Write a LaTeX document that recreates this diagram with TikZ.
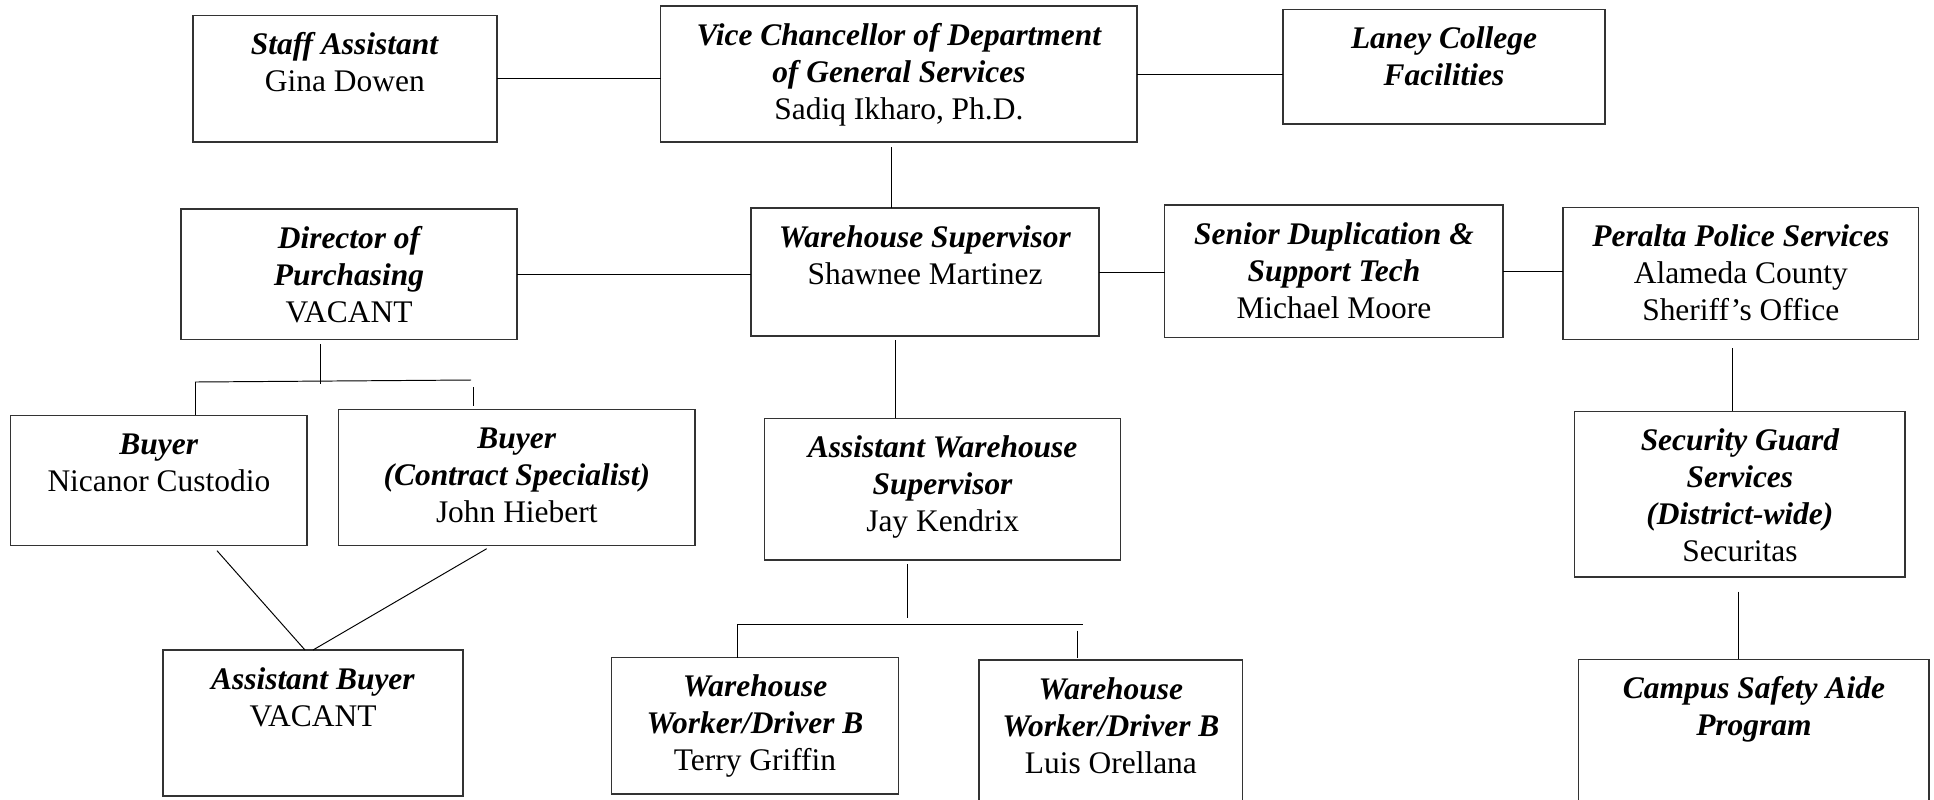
\documentclass[tikz,border=0pt]{standalone}
\usepackage{fontspec}
\setmainfont{Liberation Serif}
\usepackage{tikz}
\usetikzlibrary{calc}

\newlength{\pxu}
\setlength{\pxu}{0.02cm}
\newcommand{\role}[1]{\textbf{\textit{#1}}}
\newcommand{\posbox}[3]{\parbox[c][#2\pxu][t]{#1\pxu}{\centering\rule{0pt}{39\pxu}#3}}

\begin{document}
\begin{tikzpicture}[x=0.02cm, y=-0.02cm,
    box/.style={draw=black!80, line width=0.8pt, inner sep=0pt, outer sep=0pt,
      font=\fontsize{17.9}{21.1}\selectfont},
    link/.style={draw=black, line width=0.55pt}]
    \useasboundingbox (0,0) rectangle (1934,799);

    % top row
    \node[box] (staff) at (344.9,78.9) {\posbox{304}{126.3}{\role{Staff Assistant}\\Gina Dowen}};
    \node[box] (vc) at (898.9,74) {\posbox{476.3}{136}{\role{Vice Chancellor of Department\\of General Services}\\Sadiq Ikharo, Ph.D.}};
    \node[box] (laney) at (1444,66.7) {\posbox{322}{114.7}{\role{Laney College\\Facilities}}};

    % second row
    \node[box] (dir) at (349,274.2) {\posbox{336}{130.3}{\role{Director of\\Purchasing}\\VACANT}};
    \node[box] (ws) at (925,272) {\posbox{348}{128}{\role{Warehouse Supervisor}\\Shawnee Martinez}};
    \node[box] (senior) at (1333.9,271.4) {\posbox{338.3}{132.7}{\role{Senior Duplication \&\\Support Tech}\\Michael Moore}};
    \node[box] (peralta) at (1740.8,273.3) {\posbox{355.9}{132}{\role{Peralta Police Services}\\Alameda County\\Sheriff’s Office}};

    % third row
    \node[box] (buyer1) at (158.9,480.3) {\posbox{296.3}{130}{\role{Buyer}\\Nicanor Custodio}};
    \node[box] (buyer2) at (516.8,477.3) {\posbox{356.5}{136}{\role{Buyer\\(Contract Specialist)}\\John Hiebert}};
    \node[box] (aws) at (942.7,489.2) {\posbox{356}{141.7}{\role{Assistant Warehouse\\Supervisor}\\Jay Kendrix}};
    \node[box] (security) at (1739.9,494.2) {\posbox{330.3}{165.5}{\role{Security Guard\\Services\\(District-wide)}\\Securitas}};

    % bottom row
    \node[box] (asstbuyer) at (313,723) {\posbox{300}{146}{\role{Assistant Buyer}\\VACANT}};
    \node[box] (terry) at (755,725.9) {\posbox{287}{136.3}{\role{Warehouse\\Worker/Driver B}\\Terry Griffin}};
    \node[box] (luis) at (1110.9,731) {\posbox{263.7}{142}{\role{Warehouse\\Worker/Driver B}\\Luis Orellana}};
    \node[box] (campus) at (1753.9,730.7) {\posbox{350.3}{142.7}{\role{Campus Safety Aide\\Program}}};

    % free ends of the connectors
    \coordinate (vcdrop) at (891,147);
    \coordinate (dirtop) at (320.7,344);
    \coordinate (dirbus) at (320.7,384);
    \coordinate (busl) at (195,382);
    \coordinate (busr) at (471,380);
    \coordinate (tickr) at (473,387);
    \coordinate (wsdrop) at (895.5,340);
    \coordinate (awsdrop) at (907,564);
    \coordinate (awsbus) at (907,617.7);
    \coordinate (wbusl) at (737,624.5);
    \coordinate (wbusr) at (1082.7,624.5);
    \coordinate (tickw) at (1077,630.7);
    \coordinate (perdrop) at (1732.7,348);
    \coordinate (secdrop) at (1738,591.7);
    \coordinate (b1foot) at (217,550.7);
    \coordinate (b2foot) at (486.7,548.7);

    % connectors
    \draw[link] (staff.east) -- (staff.east -| vc.west);
    \draw[link] (vc.east) -- (vc.east -| laney.west);
    \draw[link] (vcdrop) -- (vcdrop |- ws.north);
    \draw[link] (dir.east) -- (dir.east -| ws.west);
    \draw[link] (ws.east) -- (ws.east -| senior.west);
    \draw[link] (senior.east) -- (senior.east -| peralta.west);
    \draw[link] (perdrop) -- (perdrop |- security.north);
    \draw[link] (secdrop) -- (secdrop |- campus.north);

    \draw[link] (dirtop) -- (dirbus);
    \draw[link] (busl) -- (busr);
    \draw[link] (busl) -- (busl |- buyer1.north);
    \draw[link] (tickr) -- ($(tickr |- buyer2.north)+(0,-3)$);
    \draw[link] (b1foot) -- ($(asstbuyer.north)+(-8,0)$);
    \draw[link] (b2foot) -- (asstbuyer.north);

    \draw[link] (wsdrop) -- (wsdrop |- aws.north);
    \draw[link] (awsdrop) -- (awsbus);
    \draw[link] (wbusl) -- (wbusr);
    \draw[link] (wbusl) -- (wbusl |- terry.north);
    \draw[link] (tickw) -- ($(tickw |- luis.north)+(0,-2)$);
\end{tikzpicture}
\end{document}
